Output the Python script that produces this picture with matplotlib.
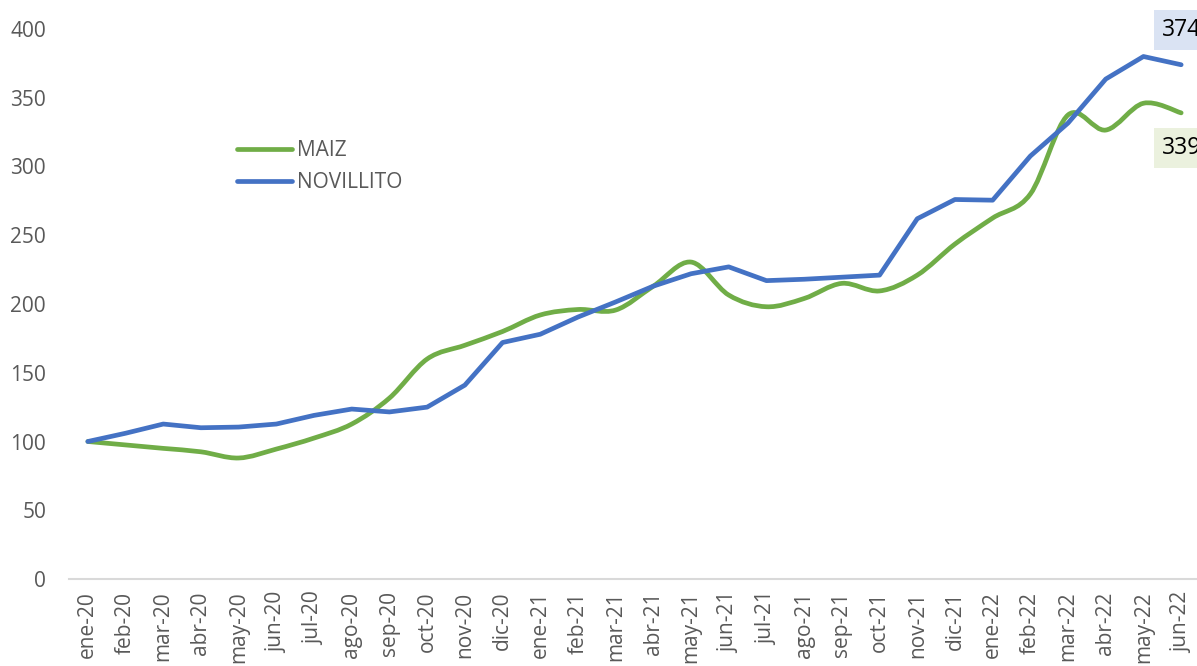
import matplotlib
matplotlib.use("Agg")
import matplotlib.pyplot as plt
from matplotlib.path import Path
from matplotlib.patches import PathPatch
from matplotlib.lines import Line2D
import numpy as np

months = ["ene-20", "feb-20", "mar-20", "abr-20", "may-20", "jun-20", "jul-20", "ago-20",
          "sep-20", "oct-20", "nov-20", "dic-20", "ene-21", "feb-21", "mar-21", "abr-21",
          "may-21", "jun-21", "jul-21", "ago-21", "sep-21", "oct-21", "nov-21", "dic-21",
          "ene-22", "feb-22", "mar-22", "abr-22", "may-22", "jun-22"]

maiz = [100, 97.5, 95, 92.5, 88, 94.5, 102.5, 112.7, 131.6, 160, 170, 180, 192, 196, 195.6,
        213, 230.5, 206.5, 198, 204, 215, 209.5, 221, 243.6, 262.5, 280, 337.5, 326.5, 346, 339]

novillito = [100, 106, 112.7, 110, 110.5, 112.7, 119, 123.6, 121.5, 125, 141, 172, 178, 190.5,
             201.5, 213, 222, 227, 217, 218, 219.5, 221, 262, 276, 275.5, 307.6, 331.6, 363.6,
             380, 374]

yticks = [0, 50, 100, 150, 200, 250, 300, 350, 400]

GREEN = "#70ad47"
BLUE = "#4472c4"
GREY = "#595959"

plt.rcParams["font.family"] = ["Open Sans", "DejaVu Sans"]

W, H = 1197, 666
fig = plt.figure(figsize=(W / 100, H / 100), dpi=100)
ax = fig.add_axes([69 / W, 87 / H, (1200 - 69) / W, (579 - 29) / H])

x = np.arange(len(months))


def smooth_path(xs, ys):
    # Excel-style smoothed line: cubic Bezier segments (Catmull-Rom control points)
    pts = np.column_stack([xs, ys]).astype(float)
    n = len(pts)
    verts = [pts[0]]
    codes = [Path.MOVETO]
    for i in range(n - 1):
        p0 = pts[i - 1] if i > 0 else pts[i]
        p1 = pts[i]
        p2 = pts[i + 1]
        p3 = pts[i + 2] if i + 2 < n else pts[i + 1]
        c1 = p1 + (p2 - p0) / 6.0
        c2 = p2 - (p3 - p1) / 6.0
        verts += [c1, c2, p2]
        codes += [Path.CURVE4] * 3
    return Path(verts, codes)


ax.add_patch(PathPatch(smooth_path(x, maiz), facecolor="none", edgecolor=GREEN,
                       lw=3.4, capstyle="round", joinstyle="round", clip_on=False, zorder=3))
ax.plot(x, novillito, color=BLUE, lw=3.4, solid_capstyle="round", solid_joinstyle="round",
        clip_on=False, zorder=4)

ax.set_xlim(-0.5, len(months) - 0.5)
ax.set_ylim(0, 400)
ax.set_xticks(x)
ax.set_xticklabels(months, rotation=90, fontsize=15, color=GREY)
ax.set_yticks(yticks)
ax.set_yticklabels([str(v) for v in yticks], fontsize=15, color=GREY)
ax.tick_params(axis="both", length=0)
ax.tick_params(axis="x", pad=9)
ax.tick_params(axis="y", pad=16.5)
for s in ["top", "right", "left"]:
    ax.spines[s].set_visible(False)
ax.spines["bottom"].set_color("#d9d9d9")
ax.spines["bottom"].set_linewidth(1.5)

# data labels
ax.annotate(f"{novillito[-1]:.0f}", xy=(x[-1], novillito[-1]), xytext=(0, 25),
            textcoords="offset points", ha="center", va="center", fontsize=16.5, color="black",
            bbox=dict(boxstyle="square,pad=0.35", fc="#dae3f3", ec="none"),
            annotation_clip=False)
ax.annotate(f"{maiz[-1]:.0f}", xy=(x[-1], maiz[-1]), xytext=(0, -25.5),
            textcoords="offset points", ha="center", va="center", fontsize=16.5, color="black",
            bbox=dict(boxstyle="square,pad=0.35", fc="#ebf1de", ec="none"),
            annotation_clip=False)

handles = [Line2D([], [], color=GREEN, lw=3.4, solid_capstyle="round"),
           Line2D([], [], color=BLUE, lw=3.4, solid_capstyle="round")]
leg = fig.legend(handles, ["MAIZ", "NOVILLITO"], loc="upper left",
                 bbox_to_anchor=(237 / W, 1 - 140 / H), frameon=False, fontsize=15,
                 handlelength=2.64, handletextpad=0.24, labelspacing=0.55, borderpad=0,
                 borderaxespad=0)
for t in leg.get_texts():
    t.set_color(GREY)

fig.savefig("out.png", dpi=100)
